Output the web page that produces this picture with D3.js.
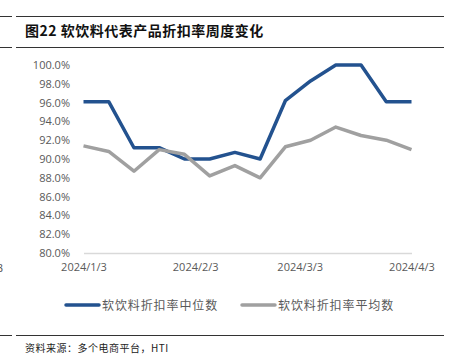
<!DOCTYPE html>
<html>
<head>
<meta charset="utf-8">
<script src="https://cdn.jsdelivr.net/npm/d3@7"></script>
<style>
  body { margin: 0; background: #fff; }
  svg { display: block; font-family: "Noto Sans CJK SC", "Noto Sans", sans-serif; }
</style>
</head>
<body>
<svg id="chart" width="458" height="364"></svg>
<script>
"use strict";

var dates = ["2024-01-03", "2024-01-10", "2024-01-17", "2024-01-24", "2024-01-31",
    "2024-02-07", "2024-02-14", "2024-02-21", "2024-02-28", "2024-03-06",
    "2024-03-13", "2024-03-20", "2024-03-27", "2024-04-03"];
var medianValues = [96.1, 96.1, 91.2, 91.2, 90.0, 90.0, 90.7, 90.0, 96.2, 98.3, 100.0, 100.0, 96.1, 96.1];
var meanValues = [91.4, 90.8, 88.7, 91.0, 90.5, 88.2, 89.3, 88.0, 91.3, 92.0, 93.4, 92.5, 92.0, 91.0];
var xTicks = ["2024-01-03", "2024-02-03", "2024-03-03", "2024-04-03"];
var yTicks = [80, 82, 84, 86, 88, 90, 92, 94, 96, 98, 100];
var seriesNames = ["软饮料折扣率中位数", "软饮料折扣率平均数"];

(function () {
    var parse = d3.timeParse("%Y-%m-%d");
    var fmtDate = d3.timeFormat("%Y/%-m/%-d");
    var colors = ["#23528F", "#A0A0A0"];

    var margin = { top: 65, right: 45, bottom: 111, left: 82 },
        width = 458 - margin.left - margin.right,
        height = 364 - margin.top - margin.bottom;

    var svg = d3.select("#chart");

    // frame lines (report style)
    [16.5, 47.5, 335.5].forEach(function (y) {
        svg.append("line").attr("x1", 16).attr("x2", 444).attr("y1", y).attr("y2", y)
            .attr("stroke", "#333").attr("stroke-width", 1);
        svg.append("line").attr("x1", 0).attr("x2", 12).attr("y1", y).attr("y2", y)
            .attr("stroke", "#333").attr("stroke-width", 1);
    });

    svg.append("text").attr("x", 25).attr("y", 36)
        .attr("font-size", 14).attr("font-weight", "bold").attr("fill", "#111")
        .attr("letter-spacing", 0.5)
        .text("图22 软饮料代表产品折扣率周度变化");

    svg.append("text").attr("x", 25).attr("y", 352)
        .attr("font-size", 10).attr("fill", "#222")
        .attr("letter-spacing", 0.5)
        .text("资料来源：多个电商平台，HTI");

    // leftover label from neighbouring chart
    svg.append("text").attr("x", -3).attr("y", 272)
        .attr("font-size", 11).attr("fill", "#595959").text("3");

    var g = svg.append("g")
        .attr("transform", "translate(" + margin.left + "," + margin.top + ")");

    var xScale = d3.scaleTime()
        .domain([parse(dates[0]), parse(dates[dates.length - 1])])
        .range([1.5, width - 1.5]);

    var yScale = d3.scaleLinear()
        .domain([80, 100])
        .range([height, 0]);

    var yAxis = d3.axisLeft(yScale)
        .tickValues(yTicks)
        .tickSize(0)
        .tickPadding(12)
        .tickFormat(function (d) { return d.toFixed(1) + "%"; });

    var yG = g.append("g").call(yAxis);
    yG.select(".domain").remove();
    yG.selectAll("text").attr("font-size", 11).attr("fill", "#595959")
        .attr("font-family", "Open Sans, Noto Sans, sans-serif");

    var xAxis = d3.axisBottom(xScale)
        .tickValues(xTicks.map(parse))
        .tickSize(0)
        .tickPadding(10)
        .tickFormat(fmtDate);

    var xG = g.append("g").attr("transform", "translate(0," + height + ")").call(xAxis);
    xG.select(".domain").attr("stroke", "#D9D9D9").attr("stroke-width", 1.5);
    xG.selectAll("text").attr("font-size", 11).attr("fill", "#595959")
        .attr("font-family", "Open Sans, Noto Sans, sans-serif");

    var line = d3.line()
        .x(function (d) { return xScale(d.date); })
        .y(function (d) { return yScale(d.value); });

    [medianValues, meanValues].forEach(function (vals, i) {
        var data = vals.map(function (v, j) { return { date: parse(dates[j]), value: v }; });
        g.append("path").datum(data)
            .attr("fill", "none")
            .attr("stroke", colors[i])
            .attr("stroke-width", 3.5)
            .attr("stroke-linejoin", "round")
            .attr("d", line);
    });

    // legend
    var legendX = [66, 242];
    seriesNames.forEach(function (name, i) {
        var lg = svg.append("g").attr("transform", "translate(" + legendX[i] + ",305)");
        lg.append("line").attr("x1", 0).attr("x2", 33).attr("y1", 0).attr("y2", 0)
            .attr("stroke", colors[i]).attr("stroke-width", 3.5).attr("stroke-linecap", "round");
        lg.append("text").attr("x", 36).attr("y", 4.5)
            .attr("font-size", 12).attr("fill", "#595959")
            .attr("letter-spacing", 0.9).text(name);
    });
})();
</script>
</body>
</html>
